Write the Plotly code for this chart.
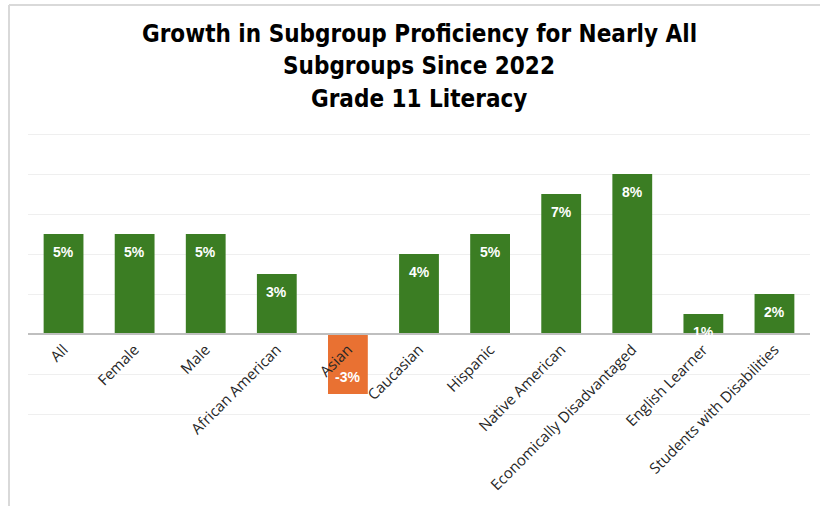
import plotly.graph_objects as go

# Growth in proficiency (percentage points) by subgroup, 2022 to now
categories = [
    "All", "Female", "Male", "African American", "Asian", "Caucasian",
    "Hispanic", "Native American", "Economically Disadvantaged",
    "English Learner", "Students with Disabilities",
]
growth = [5, 5, 5, 3, -3, 4, 5, 7, 8, 1, 2]
value_labels = ["5%", "5%", "5%", "3%", "-3%", "4%", "5%", "7%", "8%", "1%", "2%"]
grid_values = [-4, -2, 0, 2, 4, 6, 8, 10]
title_lines = [
    "Growth in Subgroup Proficiency for Nearly All",
    "Subgroups Since 2022",
    "Grade 11 Literacy",
]

GREEN = "#3B7D23"
ORANGE = "#E97132"
bar_colors = [GREEN if v >= 0 else ORANGE for v in growth]

W, H = 820, 506
M_L, M_R, M_T, M_B = 28, 10, 130, 88
y_min, y_max = -4.2, 10.2
plot_w = W - M_L - M_R
plot_h = H - M_T - M_B


def py(px_from_top):
    """Convert a pixel row of the page to a paper y coordinate."""
    return (H - M_B - px_from_top) / plot_h


def px(px_from_left):
    """Convert a pixel column of the page to a paper x coordinate."""
    return (px_from_left - M_L) / plot_w


fig = go.Figure(
    go.Bar(
        x=categories,
        y=growth,
        marker=dict(color=bar_colors, line=dict(width=0)),
        hoverinfo="skip",
    )
)

# White value labels just inside the bar ends
for cat, val, lab in zip(categories, growth, value_labels):
    fig.add_annotation(
        x=cat, y=val, xref="x", yref="y",
        text=f"<b>{lab}</b>", showarrow=False,
        font=dict(family="Liberation Sans, Arial, sans-serif", size=14, color="white"),
        yshift=-18 if val >= 0 else 17,
    )

# Chart title, three centred lines
for i, line in enumerate(title_lines):
    fig.add_annotation(
        x=0.5, y=py(34 + 32.5 * i), xref="paper", yref="paper",
        xanchor="center", yanchor="middle",
        text=f"<b>{line}</b>", showarrow=False,
        font=dict(family="DejaVu Sans Condensed, Liberation Sans Narrow, sans-serif",
                  size=24, color="black"),
    )

# Outer chart frame: left and top edges
frame = dict(color="#D9D9D9", width=2)
fig.add_shape(type="line", xref="paper", yref="paper",
              x0=px(9), x1=px(9), y0=py(5), y1=py(520), line=frame)
fig.add_shape(type="line", xref="paper", yref="paper",
              x0=px(9), x1=px(830), y0=py(5), y1=py(5), line=frame)

fig.update_layout(
    width=W, height=H,
    margin=dict(l=M_L, r=M_R, t=M_T, b=M_B),
    paper_bgcolor="white", plot_bgcolor="white",
    bargap=0.44,
    showlegend=False,
    xaxis=dict(
        anchor="free", position=(0 - y_min) / (y_max - y_min),
        showline=True, linecolor="#BFBFBF", linewidth=2,
        showgrid=False, ticks="", tickangle=-45,
        tickfont=dict(family="Open Sans, DejaVu Sans, sans-serif", size=15, color="#262626"),
    ),
    yaxis=dict(
        range=[y_min, y_max], tickmode="array", tickvals=grid_values,
        showgrid=True, gridcolor="#EFEFEF", gridwidth=1,
        zeroline=False, showticklabels=False, ticks="",
    ),
)

fig.write_html("out.html")
